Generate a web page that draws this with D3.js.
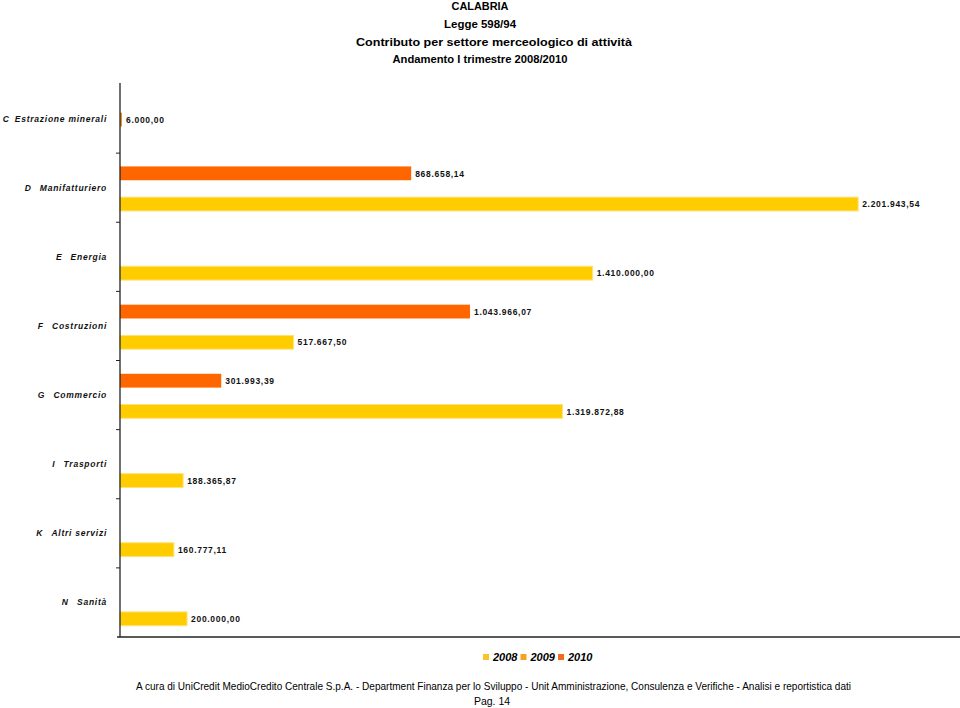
<!DOCTYPE html>
<html>
<head>
<meta charset="utf-8">
<script src="https://cdn.jsdelivr.net/npm/d3@7"></script>
<style>
body { margin: 0; background: #fff; }
text { font-family: "Liberation Sans", Arial, sans-serif; }
</style>
</head>
<body>
<script>
// data
var codes = ["C", "D", "E", "F", "G", "I", "K", "N"];
var names = ["Estrazione minerali", "Manifatturiero", "Energia", "Costruzioni",
             "Commercio", "Trasporti", "Altri servizi", "Sanità"];
var years = ["2008", "2009", "2010"];
var val2008 = [null, 2201943.54, 1410000.00, 517667.50, 1319872.88, 188365.87, 160777.11, 200000.00];
var val2009 = [6000.00, null, null, null, null, null, null, null];
var val2010 = [null, 868658.14, null, 1043966.07, 301993.39, null, null, null];
var titles = ["CALABRIA", "Legge 598/94", "Contributo per settore merceologico di attività", "Andamento I trimestre 2008/2010"];

var W = 960, H = 708;
var svg = d3.select("body").append("svg").attr("width", W).attr("height", H);

var barColor = {"2008": "#ffcc00", "2009": "#ea9320", "2010": "#ff6600"};
var legColor = {"2008": "#f7c52a", "2009": "#f5a21e", "2010": "#f06b1e"};

var fmt = d3.formatLocale({decimal: ",", thousands: ".", grouping: [3], currency: ["", ""]}).format(",.2f");

// titles
var titleX = [480, 480, 494, 480], titleY = [10, 28, 46, 63], titleLen = [57, 72, 276, 175];
svg.selectAll("text.title").data(titles).enter().append("text")
    .attr("class", "title")
    .attr("x", function(d, i) { return titleX[i]; })
    .attr("y", function(d, i) { return titleY[i]; })
    .attr("text-anchor", "middle")
    .attr("textLength", function(d, i) { return titleLen[i]; })
    .attr("lengthAdjust", "spacingAndGlyphs")
    .style("font-size", "11.5px")
    .style("font-weight", "bold")
    .text(function(d) { return d; });

// scales
var y = d3.scaleBand().domain(codes).range([84, 637]);
var slot = d3.scaleBand().domain(["2010", "2009", "2008"]).range([0, y.bandwidth()]).paddingInner(0.1).paddingOuter(0.8);
var x = d3.scaleLinear().domain([0, 2200000]).range([120, 857.5]);

// bars
var series = [{year: "2008", vals: val2008}, {year: "2009", vals: val2009}, {year: "2010", vals: val2010}];
var bars = [];
series.forEach(function(s) {
    s.vals.forEach(function(v, i) {
        if (v != null) bars.push({year: s.year, code: codes[i], value: v});
    });
});

svg.selectAll("rect.bar").data(bars).enter().append("rect")
    .attr("class", "bar")
    .attr("x", x(0))
    .attr("y", function(d) { return y(d.code) + slot(d.year) + 1; })
    .attr("width", function(d) { return Math.max(1.5, x(d.value) - x(0)); })
    .attr("height", slot.bandwidth())
    .attr("fill", function(d) { return barColor[d.year]; })
    .attr("stroke", function(d) { return d.year == "2008" ? "#ffe27a" : "none"; })
    .attr("stroke-width", 1);

svg.selectAll("text.val").data(bars).enter().append("text")
    .attr("class", "val")
    .attr("x", function(d) { return Math.max(x(0) + 1.5, x(d.value)) + 4; })
    .attr("y", function(d) { return y(d.code) + slot(d.year) + 1 + slot.bandwidth() / 2 + 3.2; })
    .style("font-size", "8.5px")
    .style("font-weight", "bold")
    .style("letter-spacing", "0.7px")
    .attr("fill", "#111")
    .text(function(d) { return fmt(d.value); });

// category labels: name right-aligned, code placed before it
var cat = svg.selectAll("g.cat").data(codes).enter().append("g").attr("class", "cat");
cat.append("text")
    .attr("class", "name")
    .attr("x", 107)
    .attr("y", function(d) { return y(d) + y.bandwidth() / 2 + 3; })
    .attr("text-anchor", "end")
    .style("font-size", "8.5px").style("font-weight", "bold").style("font-style", "italic")
    .style("letter-spacing", "0.75px")
    .attr("fill", "#111")
    .text(function(d, i) { return names[i]; });
cat.append("text")
    .attr("x", function(d, i) {
        var w = d3.select(this.parentNode).select("text.name").node().getComputedTextLength();
        return Math.max(9, 107 - w - 9);
    })
    .attr("y", function(d) { return y(d) + y.bandwidth() / 2 + 3; })
    .attr("text-anchor", "end")
    .style("font-size", "8.5px").style("font-weight", "bold").style("font-style", "italic")
    .attr("fill", "#111")
    .text(function(d) { return d; });

// axes
var boundaries = codes.slice(1).map(function(d) { return y(d); });
svg.append("line").attr("x1", 120).attr("x2", 120).attr("y1", 83).attr("y2", 637)
    .attr("stroke", "#222").attr("stroke-width", 1.3);
svg.append("line").attr("x1", 117).attr("x2", 960).attr("y1", 637).attr("y2", 637)
    .attr("stroke", "#222").attr("stroke-width", 1.3);
svg.selectAll("line.tick").data(boundaries).enter().append("line")
    .attr("class", "tick")
    .attr("x1", 116).attr("x2", 120)
    .attr("y1", function(d) { return d; }).attr("y2", function(d) { return d; })
    .attr("stroke", "#222");

// legend
var leg = svg.selectAll("g.leg").data(years).enter().append("g")
    .attr("class", "leg")
    .attr("transform", function(d, i) { return "translate(" + (483 + i * 37.5) + ",654)"; });
leg.append("rect").attr("width", 6).attr("height", 6).attr("fill", function(d) { return legColor[d]; });
leg.append("text").attr("x", 10).attr("y", 6.5)
    .style("font-size", "11px").style("font-weight", "bold").style("font-style", "italic")
    .text(function(d) { return d; });

// footer
svg.append("text").attr("x", 493.5).attr("y", 690).attr("text-anchor", "middle")
    .attr("textLength", 715).attr("lengthAdjust", "spacingAndGlyphs")
    .style("font-size", "10.5px")
    .text("A cura di UniCredit MedioCredito Centrale S.p.A. - Department Finanza per lo Sviluppo - Unit Amministrazione, Consulenza e Verifiche - Analisi e reportistica dati");
svg.append("text").attr("x", 492).attr("y", 705).attr("text-anchor", "middle")
    .style("font-size", "10.5px")
    .text("Pag. 14");
</script>
</body>
</html>
